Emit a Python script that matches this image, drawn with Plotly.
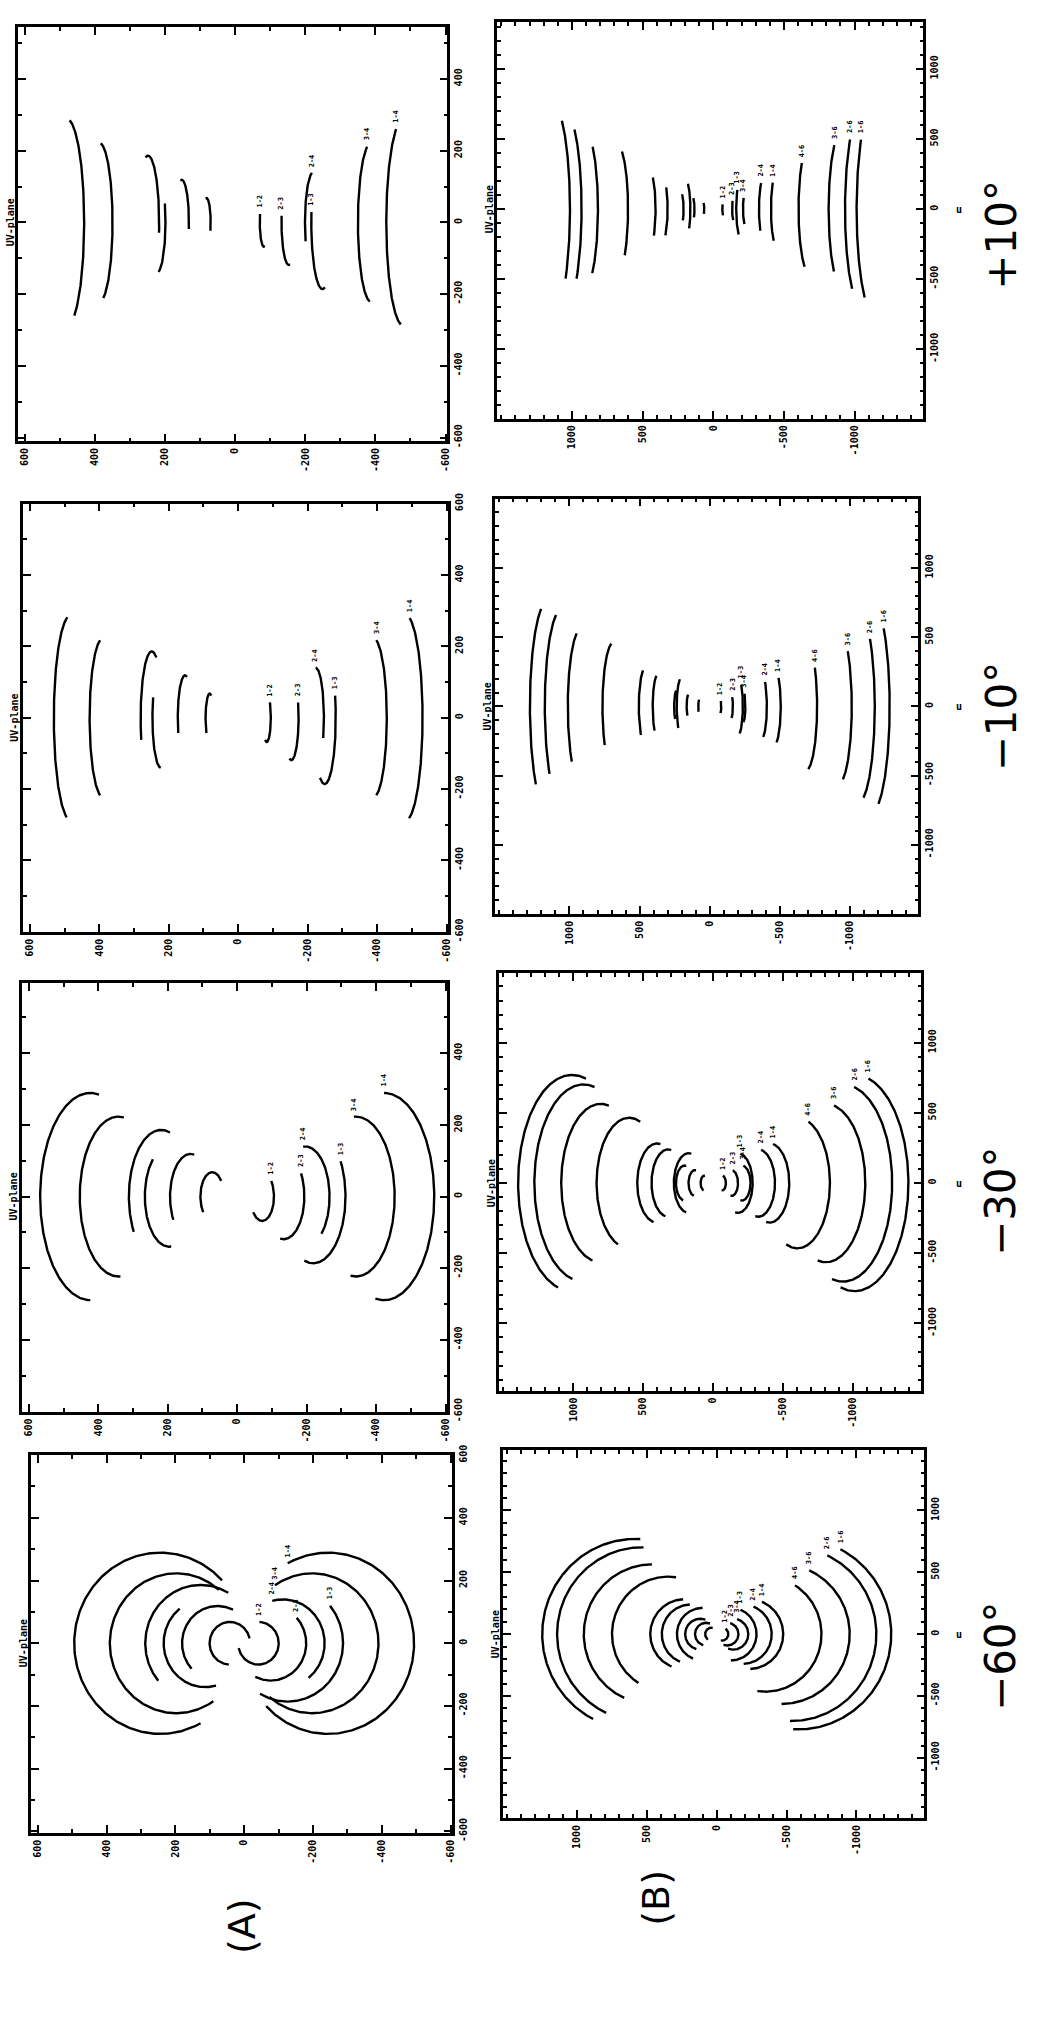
import numpy as np
import plotly.graph_objects as go

FIG_W, FIG_H = 1037, 2024

# ---------------- data ----------------
# Baseline labels, inner track -> outer track
A_LABELS = ["1-2", "2-3", "2-4", "1-3", "3-4", "1-4"]
B_LABELS = ["1-2", "2-3", "3-4", "1-3", "2-4", "1-4", "4-6", "3-6", "2-6", "1-6"]

# Each track: centre v0, u semi-axis (AU), signed v semi-axis (BV), phase range PH1..PH2 (deg)
# ---- configuration A ----
A_P10_V0 = [-82, -153, -223, -249, -389, -481]
A_P10_AU = [68, 119, 140, 186, 223, 289]
A_P10_BV = [12, 21, 24, 32, 39, 50]
A_P10_PH1 = [-103, -100, -22, -103, -82, -80]
A_P10_PH2 = [20, 9, 80, 9, 71, 64]

A_M10_V0 = [-82, -153, -223, -249, -389, -481]
A_M10_AU = [68, 119, 140, 186, 223, 289]
A_M10_BV = [-12, -21, -24, -32, -39, -50]
A_M10_PH1 = [-114, -106, -24, -115, -77, -77]
A_M10_PH2 = [39, 21, 90, 19.5, 77, 75]

A_M30_V0 = [-72, -134, -196, -219, -342, -423]
A_M30_AU = [68, 119, 140, 186, 223, 289]
A_M30_BV = [-34, -59.5, -70, -93, -111.5, -144.5]
A_M30_PH1 = [-140, -100, -48, -106, -98, -100]
A_M30_PH2 = [40, 33, 95, 32, 93, 90]

A_M60_V0 = [-41.5, -77.5, -113, -126.5, -197.5, -244]
A_M60_AU = [68, 119, 140, 186, 223, 289]
A_M60_BV = [-59, -103, -121, -161, -193, -250]
A_M60_PH1 = [-167, -116, -52, -120, -130, -136]
A_M60_PH2 = [87, 43, 105, 40, 124, 118]

# ---- configuration B ----
B_P10_V0 = [-73, -149, -232, -199, -365, -457, -684, -914, -1054, -1148]
B_P10_AU = [53, 92, 125, 213, 240, 282, 465, 564, 702, 770]
B_P10_BV = [9, 16, 22, 37, 42, 49, 81, 98, 122, 134]
B_P10_PH1 = [-58, -58, -58, -58, -40, -53, -62, -52, -54, -55]
B_P10_PH2 = [40, 40, 40, 40, 51, 42, 45, 54, 45, 40]

B_M10_V0 = [-73, -149, -232, -199, -365, -457, -684, -914, -1054, -1148]
B_M10_AU = [53, 92, 125, 213, 240, 282, 465, 564, 702, 770]
B_M10_BV = [-9, -16, -22, -37, -42, -49, -81, -98, -122, -134]
B_M10_PH1 = [-67, -67, -67, -67, -67, -67, -77, -69, -70, -66]
B_M10_PH2 = [47, 47, 47, 47, 47, 47, 37, 45, 44, 47]

B_M30_V0 = [-64, -131, -204, -175, -321, -402, -601, -804, -927, -1009]
B_M30_AU = [53, 92, 125, 213, 240, 282, 465, 564, 702, 770]
B_M30_BV = [-26.5, -46, -62.5, -106.5, -120, -141, -232.5, -282, -351, -385]
B_M30_PH1 = [-100, -100, -100, -100, -100, -100, -110, -102, -103, -105]
B_M30_PH2 = [80, 80, 80, 80, 80, 80, 70, 78, 77, 75]

B_M60_V0 = [-37, -75.5, -118, -101, -185.5, -232, -347, -464, -535, -582.5]
B_M60_AU = [53, 92, 125, 213, 240, 282, 465, 564, 702, 770]
B_M60_BV = [-46, -80, -108, -184, -208, -244, -403, -488, -608, -667]
B_M60_PH1 = [-100, -110, -110, -90, -88, -88, -98, -90, -91, -93]
B_M60_PH2 = [56, 75, 75, 68, 68, 68, 58, 66, 65, 63]

A_TICKS = [600, 400, 200, 0, -200, -400, -600]
A_TICKTEXT = ["600", "400", "200", "0", "-200", "-400", "-600"]
B_TICKS = [1000, 500, 0, -500, -1000]
B_TICKTEXT = ["1000", "500", "0", "-500", "-1000"]

DEC_LABELS = ["+10°", "\u221210°", "\u221230°", "\u221260°"]
GROUP_LABELS = ["(A)", "(B)"]

# ---------------- layout (pixel boxes: left, right, top, bottom) ----------------
PANELS = [
    dict(box=(18, 449, 16, 435), vr=(620, -605), ur=(-610, 545), g="A",
         d=(A_P10_V0, A_P10_AU, A_P10_BV, A_P10_PH1, A_P10_PH2)),
    dict(box=(23, 450, 498, 931), vr=(620, -605), ur=(-600, 600), g="A",
         d=(A_M10_V0, A_M10_AU, A_M10_BV, A_M10_PH1, A_M10_PH2)),
    dict(box=(22, 449, 983, 1416), vr=(620, -605), ur=(-600, 595), g="A",
         d=(A_M30_V0, A_M30_AU, A_M30_BV, A_M30_PH1, A_M30_PH2)),
    dict(box=(31, 454, 1460, 1842), vr=(620, -605), ur=(-605, 600), g="A",
         d=(A_M60_V0, A_M60_AU, A_M60_BV, A_M60_PH1, A_M60_PH2)),
    dict(box=(499, 927, 11, 412), vr=(1530, -1487), ur=(-1493, 1335), g="B",
         d=(B_P10_V0, B_P10_AU, B_P10_BV, B_P10_PH1, B_P10_PH2)),
    dict(box=(497, 922, 493, 913), vr=(1530, -1487), ur=(-1500, 1500), g="B",
         d=(B_M10_V0, B_M10_AU, B_M10_BV, B_M10_PH1, B_M10_PH2)),
    dict(box=(501, 925, 973, 1395), vr=(1530, -1487), ur=(-1480, 1493), g="B",
         d=(B_M30_V0, B_M30_AU, B_M30_BV, B_M30_PH1, B_M30_PH2)),
    dict(box=(505, 928, 1455, 1827), vr=(1530, -1487), ur=(-1487, 1487), g="B",
         d=(B_M60_V0, B_M60_AU, B_M60_BV, B_M60_PH1, B_M60_PH2)),
]

TICKFONT = dict(family="DejaVu Sans Mono", size=10, color="black", weight="bold")

fig = go.Figure()
annotations = []
layout_axes = {}


def paper_note(text, xpx, ypx, size, family="DejaVu Sans Mono", weight="normal", angle=-90):
    return dict(x=xpx / FIG_W, y=1 - ypx / FIG_H, xref="paper", yref="paper",
                xanchor="center", yanchor="middle", text=text, textangle=angle,
                showarrow=False, font=dict(family=family, size=size, color="black", weight=weight))


for i, p in enumerate(PANELS, start=1):
    xa = "x" if i == 1 else f"x{i}"
    ya = "y" if i == 1 else f"y{i}"
    L, R, T, Bm = p["box"]
    labels = A_LABELS if p["g"] == "A" else B_LABELS
    xs, ys = [], []
    for k, (v0, au, bv, p1, p2) in enumerate(zip(*p["d"])):
        t = np.radians(np.linspace(p1, p2, 200))
        v = v0 + bv * np.cos(t)
        u = au * np.sin(t)
        xs += list(v) + [None] + list(-v) + [None]
        ys += list(u) + [None] + list(-u) + [None]
        annotations.append(dict(
            x=float(v[-1]), y=float(u[-1]), xref=xa, yref=ya, text=labels[k],
            xanchor="center", yanchor="bottom", textangle=-90, yshift=4, showarrow=False,
            font=dict(family="DejaVu Sans Mono", size=7, color="black", weight="bold")))
    fig.add_trace(go.Scatter(x=xs, y=ys, mode="lines",
                             line=dict(color="black", width=2.4),
                             xaxis=xa, yaxis=ya, showlegend=False, hoverinfo="skip"))

    ticks = A_TICKS if p["g"] == "A" else B_TICKS
    ttext = A_TICKTEXT if p["g"] == "A" else B_TICKTEXT
    common = dict(showline=True, linecolor="black", linewidth=2.5, mirror="allticks",
                  ticks="inside", ticklen=8, tickwidth=2, tickcolor="black",
                  tickvals=ticks, ticktext=ttext, tickangle=-90, tickfont=TICKFONT,
                  minor=dict(dtick=100, tick0=0, ticks="inside", ticklen=4,
                             tickwidth=1.5, tickcolor="black"),
                  showgrid=False, zeroline=False, fixedrange=True)
    layout_axes["xaxis" if i == 1 else f"xaxis{i}"] = dict(
        domain=[L / FIG_W, R / FIG_W], range=list(p["vr"]), anchor=ya, **common)
    layout_axes["yaxis" if i == 1 else f"yaxis{i}"] = dict(
        domain=[1 - Bm / FIG_H, 1 - T / FIG_H], range=list(p["ur"]), anchor=xa,
        side="right", **common)

    # title "UV-plane" beside the frame, level with u = 0
    u0, u1 = p["ur"]
    y_zero_px = T + (u1 - 0) / (u1 - u0) * (Bm - T)
    annotations.append(paper_note("UV-plane", L - 8, y_zero_px, 10, weight="bold"))
    if p["g"] == "B":
        annotations.append(paper_note("u", 963, y_zero_px, 10, weight="bold", angle=0))

# declination labels (handwritten, right side)
for txt, ypx in zip(DEC_LABELS, [226, 713, 1203, 1663]):
    annotations.append(paper_note(txt, 1005, ypx, 42, family="DejaVu Sans"))
for txt, xpx, ypx in zip(GROUP_LABELS, [243, 659], [1936, 1907]):
    annotations.append(paper_note(txt, xpx, ypx, 38, family="DejaVu Sans"))

fig.update_layout(width=FIG_W, height=FIG_H, margin=dict(l=0, r=0, t=0, b=0),
                  paper_bgcolor="white", plot_bgcolor="white",
                  annotations=annotations, **layout_axes)
fig.write_html("out.html")
